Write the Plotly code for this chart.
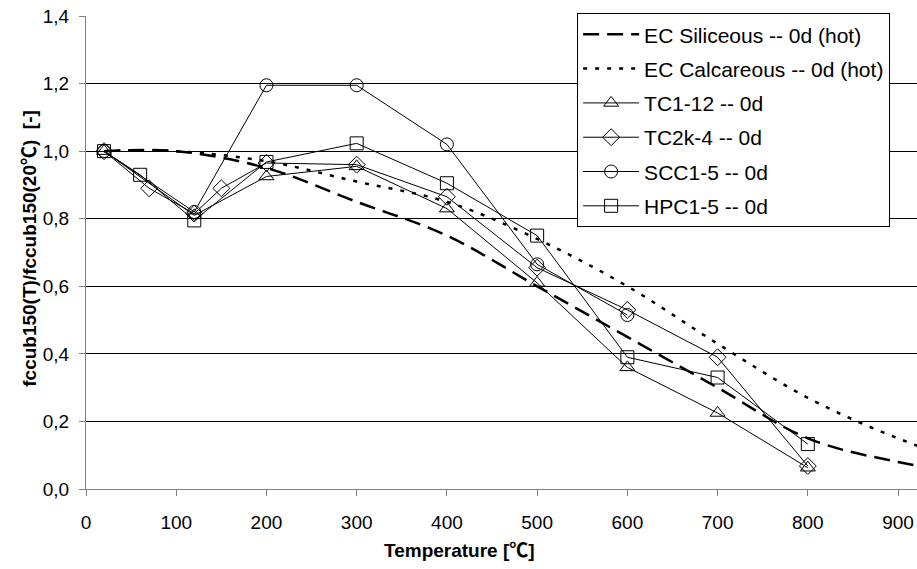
import plotly.graph_objects as go

# EC curves (Eurocode reduction factors)
ec_T = [20, 100, 200, 300, 400, 500, 600, 700, 800, 900, 1000, 1100]
ec_siliceous = [1.0, 1.0, 0.95, 0.85, 0.75, 0.60, 0.45, 0.30, 0.15, 0.08, 0.04, 0.01]
ec_calcareous = [1.0, 1.0, 0.97, 0.91, 0.85, 0.74, 0.60, 0.43, 0.27, 0.15, 0.06, 0.02]

tc1_T = [20, 120, 200, 300, 400, 500, 600, 700, 800]
tc1_v = [1.0, 0.81, 0.925, 0.955, 0.83, 0.61, 0.36, 0.225, 0.063]

tc2k_T = [20, 70, 120, 150, 200, 300, 400, 500, 600, 700, 800]
tc2k_v = [1.0, 0.89, 0.815, 0.89, 0.965, 0.96, 0.865, 0.655, 0.53, 0.39, 0.068]

scc_T = [20, 120, 200, 300, 400, 500, 600]
scc_v = [1.0, 0.82, 1.195, 1.195, 1.02, 0.665, 0.515]

hpc_T = [20, 60, 120, 200, 300, 400, 500, 600, 700, 800]
hpc_v = [1.0, 0.93, 0.795, 0.968, 1.023, 0.905, 0.75, 0.39, 0.33, 0.133]

x_ticks = [0, 100, 200, 300, 400, 500, 600, 700, 800, 900]
y_ticks = [0, 0.2, 0.4, 0.6, 0.8, 1.0, 1.2, 1.4]

FONT = "Liberation Sans, Arial, Noto Sans CJK SC, sans-serif"

fig = go.Figure()
fig.add_trace(go.Scatter(x=ec_T, y=ec_siliceous, mode="lines", name="EC Siliceous -- 0d (hot)",
                         legendgroup="g1",
                         line=dict(color="black", width=2.5, dash="16px,8px", shape="spline")))
fig.add_trace(go.Scatter(x=ec_T, y=ec_calcareous, mode="lines", name="EC Calcareous -- 0d (hot)",
                         legendgroup="g2",
                         line=dict(color="black", width=2.5, dash="4px,8px", shape="spline")))

for i, (name, xs, ys, sym) in enumerate([
    ("TC1-12 -- 0d", tc1_T, tc1_v, "triangle-up-open"),
    ("TC2k-4 -- 0d", tc2k_T, tc2k_v, "diamond-open"),
    ("SCC1-5 -- 0d", scc_T, scc_v, "circle-open"),
    ("HPC1-5 -- 0d", hpc_T, hpc_v, "square-open"),
]):
    fig.add_trace(go.Scatter(x=xs, y=ys, mode="lines+markers", name=name,
                             legendgroup="g%d" % (i + 3),
                             line=dict(color="black", width=1),
                             marker=dict(symbol=sym, size=13, color="black",
                                         line=dict(color="black", width=1))))

fig.update_layout(
    width=917, height=569,
    margin=dict(l=86, r=0, t=16, b=80),
    paper_bgcolor="white", plot_bgcolor="white",
    separators=",.",
    font=dict(family=FONT, size=19, color="black"),
    showlegend=True,
    legend=dict(x=0.591, y=1.006, xanchor="left", yanchor="top",
                bgcolor="white", bordercolor="black", borderwidth=1,
                font=dict(size=21), itemwidth=56, traceorder="grouped", tracegroupgap=4),
    xaxis=dict(range=[0, 921], tickvals=x_ticks,
               showgrid=False, zeroline=False, showline=True, linecolor="#808080", linewidth=1,
               ticks="outside", ticklen=6, tickcolor="#808080", ticklabelstandoff=10),
    yaxis=dict(range=[0, 1.4], tickvals=y_ticks, tickformat=".1f",
               showgrid=True, gridcolor="black", gridwidth=1, zeroline=False,
               showline=True, linecolor="#808080", linewidth=1,
               ticks="outside", ticklen=6, tickcolor="#808080", ticklabelstandoff=6),
    annotations=[
        dict(text="<b>Temperature [℃]</b>", xref="paper", yref="paper",
             x=0.45, y=-0.131, xanchor="center", yanchor="middle", showarrow=False,
             font=dict(size=19)),
        dict(text="<b>fccub150(T)/fccub150(20℃)\u00a0\u00a0[-]</b>", xref="paper", yref="paper",
             x=-0.0674, y=0.51, xanchor="center", yanchor="middle", showarrow=False,
             textangle=-90, font=dict(size=19)),
    ],
)

fig.write_html("out.html")
